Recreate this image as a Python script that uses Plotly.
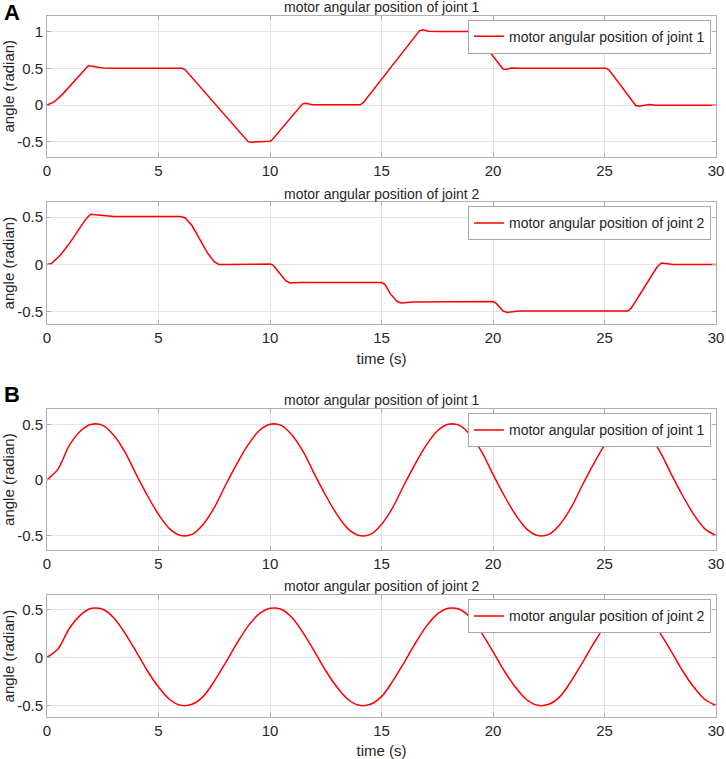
"""Motor angular positions of joints 1 and 2 (panels A and B)."""

import plotly.graph_objects as go

# panel A, joint 1 (step-like trajectory)
a1_time = [0, 0.3, 0.7, 1.2, 1.6, 1.85, 2.1, 2.5, 3.0, 6.05, 6.2, 9.0, 9.1, 9.3, 9.6,
           10.0, 10.1, 11.45, 11.6, 11.9, 12.3, 14.05, 14.2, 16.7, 16.85, 17.1, 17.6,
           19.05, 19.2, 20.45, 20.6, 20.8, 21.2, 25.05, 25.2, 26.4, 26.55, 26.8, 27.0,
           27.3, 30]
a1_angle = [0, 0.04, 0.15, 0.32, 0.46, 0.535, 0.525, 0.505, 0.50, 0.50, 0.48, -0.49,
            -0.505, -0.5, -0.49, -0.49, -0.47, 0.015, 0.025, 0.005, 0.005, 0.005, 0.04,
            1.01, 1.025, 1.005, 1.0, 1.0, 0.975, 0.49, 0.485, 0.505, 0.50, 0.50, 0.48,
            -0.005, -0.015, 0.0, 0.01, 0.0, 0.0]

# panel A, joint 2
a2_time = [0, 0.2, 0.6, 1.0, 1.4, 1.75, 1.95, 2.2, 2.6, 3.0, 6.0, 6.2, 6.5, 7.2, 7.5,
           7.7, 8.0, 10.0, 10.15, 10.4, 10.7, 10.9, 11.3, 15.0, 15.15, 15.4, 15.7, 15.9,
           16.4, 20.0, 20.15, 20.45, 20.65, 21.2, 26.05, 26.2, 27.35, 27.55, 27.8, 28.1,
           30]
a2_angle = [0, 0.01, 0.10, 0.22, 0.36, 0.48, 0.53, 0.525, 0.51, 0.505, 0.505, 0.49,
            0.41, 0.12, 0.03, 0.0, 0.0, 0.005, -0.01, -0.08, -0.17, -0.195, -0.19, -0.19,
            -0.21, -0.31, -0.39, -0.405, -0.395, -0.39, -0.41, -0.49, -0.505, -0.49,
            -0.49, -0.46, -0.03, 0.015, 0.01, 0.0, 0.0]

# panel B, sampled every 0.5 s
b_time = [i * 0.5 for i in range(61)]
b1_angle = [0, 0.10, 0.31, 0.44, 0.50, 0.49, 0.40, 0.25, 0.05, -0.14, -0.31, -0.44,
            -0.50, -0.49, -0.40, -0.25, -0.05, 0.14, 0.31, 0.44, 0.50, 0.49, 0.40,
            0.25, 0.05, -0.14, -0.31, -0.44, -0.50, -0.49, -0.40, -0.25, -0.05, 0.14,
            0.31, 0.44, 0.50, 0.49, 0.40, 0.25, 0.05, -0.14, -0.31, -0.44, -0.50,
            -0.49, -0.40, -0.25, -0.05, 0.14, 0.31, 0.44, 0.50, 0.49, 0.40, 0.25,
            0.05, -0.14, -0.31, -0.44, -0.50]
b2_angle = [0, 0.09, 0.30, 0.44, 0.51, 0.50, 0.41, 0.25, 0.06, -0.14, -0.31, -0.44,
            -0.50, -0.49, -0.41, -0.25, -0.06, 0.14, 0.32, 0.45, 0.51, 0.50, 0.41,
            0.25, 0.06, -0.14, -0.31, -0.44, -0.50, -0.49, -0.41, -0.25, -0.06, 0.14,
            0.32, 0.45, 0.51, 0.50, 0.41, 0.25, 0.06, -0.14, -0.31, -0.44, -0.50,
            -0.49, -0.41, -0.25, -0.06, 0.14, 0.32, 0.45, 0.51, 0.50, 0.41, 0.25,
            0.06, -0.14, -0.31, -0.44, -0.50]

x_ticks = [0, 5, 10, 15, 20, 25, 30]
titles = ["motor angular position of joint 1", "motor angular position of joint 2",
          "motor angular position of joint 1", "motor angular position of joint 2"]
y_ranges = [[-0.7, 1.215], [-0.627, 0.655], [-0.63, 0.635], [-0.622, 0.646]]
y_ticks = [[-0.5, 0, 0.5, 1], [-0.5, 0, 0.5], [-0.5, 0, 0.5], [-0.5, 0, 0.5]]

W, H = 726, 759
FONT = "Liberation Sans, Arial, sans-serif"
# plot area edges in pixels
M_L, M_R, M_T, M_B = 47, 10, 15, 42
# pixel boxes of each plot area (top, bottom)
boxes = [(15.7, 156.7), (202.3, 324), (409.3, 550), (595.3, 717)]
title_y = [7, 194, 400, 586]


def px_x(x):
    return (x - M_L) / (W - M_L - M_R)


def px_y(y):
    return (H - M_B - y) / (H - M_T - M_B)


series = [(a1_time, a1_angle), (a2_time, a2_angle), (b_time, b1_angle), (b_time, b2_angle)]

fig = go.Figure()
layout = {}
for i, ((tx, ty), (top, bot)) in enumerate(zip(series, boxes)):
    n = "" if i == 0 else str(i + 1)
    fig.add_trace(go.Scatter(
        x=tx, y=ty, mode="lines", name=titles[i],
        line=dict(color="#ff0000", width=1.5, shape="spline" if i >= 2 else "linear", smoothing=0.8),
        xaxis="x" + n, yaxis="y" + n, legend="legend" + n,
    ))
    axis_common = dict(
        showgrid=True, gridcolor="#e3e3e3", gridwidth=1,
        showline=True, linecolor="#b0b0b0", linewidth=1, mirror="ticks",
        ticks="inside", ticklen=4, tickcolor="#b0b0b0", automargin=False,
        ticklabeloverflow="allow",
        zeroline=False, tickfont=dict(size=15, color="#262626", family=FONT),
    )
    layout["xaxis" + n] = dict(
        axis_common, domain=[0, 1], range=[0, 30],
        tickvals=x_ticks, anchor="y" + n,
        title=dict(text="time (s)" if i in (1, 3) else "", font=dict(size=15, color="#262626"),
                   standoff=8),
    )
    layout["yaxis" + n] = dict(
        axis_common, domain=[max(0, px_y(bot)), min(1, px_y(top))], range=y_ranges[i],
        tickvals=y_ticks[i], ticktext=[f"{v:g}" for v in y_ticks[i]], anchor="x" + n,
        title=dict(text="angle (radian)", font=dict(size=15, color="#262626"), standoff=6),
    )
    layout["legend" + n] = dict(
        x=px_x(711), xanchor="right", y=px_y(top + 4), yanchor="top",
        bgcolor="white", bordercolor="#a8a8a8", borderwidth=1,
        font=dict(size=14, color="#262626", family=FONT),
        itemwidth=30, tracegroupgap=0,
    )

annotations = []
for i, ty in enumerate(title_y):
    annotations.append(dict(
        text=titles[i], x=0.5, y=px_y(ty),
        xref="paper", yref="paper", xanchor="center", yanchor="middle",
        showarrow=False, font=dict(size=14, color="#262626", family=FONT),
    ))
for label, py in (("A", 13), ("B", 395)):
    annotations.append(dict(
        text=f"<b>{label}</b>", x=px_x(2), y=px_y(py), xref="paper", yref="paper",
        xanchor="left", yanchor="middle", showarrow=False,
        font=dict(size=22, color="black", family=FONT),
    ))

fig.update_layout(
    **layout,
    annotations=annotations,
    width=W, height=H,
    margin=dict(l=M_L, r=M_R, t=M_T, b=M_B, autoexpand=False),
    paper_bgcolor="white", plot_bgcolor="white",
    font=dict(family=FONT, size=15, color="#262626"),
    showlegend=True,
)

# drop the browser's default 8px body margin so the figure sits at the window corner
fig.write_html("out.html", config={"displayModeBar": False},
               post_script="document.body.style.margin='0';")
